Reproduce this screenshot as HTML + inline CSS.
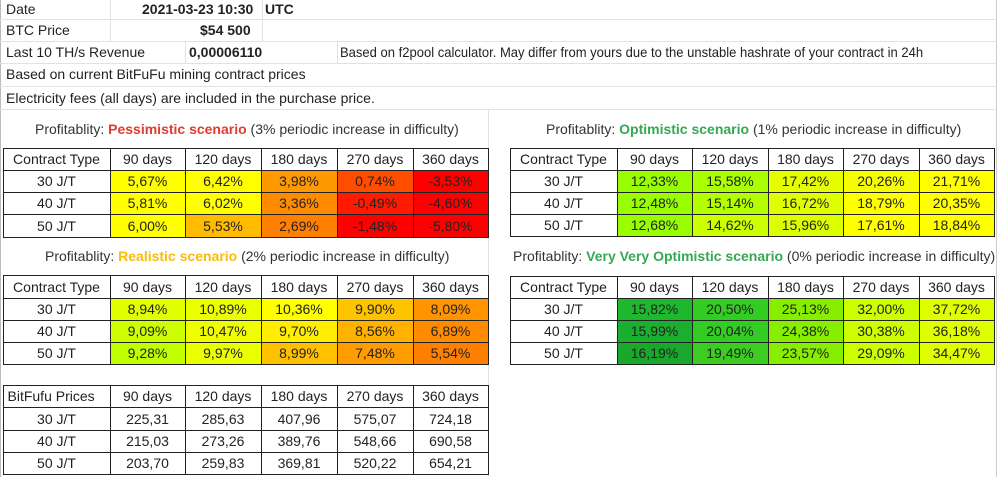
<!DOCTYPE html>
<html><head><meta charset="utf-8"><style>
body{margin:0;width:1000px;height:477px;background:#fff;position:relative;overflow:hidden;font-family:"Liberation Sans",Arial,sans-serif;font-size:14px;color:#222}
.c{position:absolute;box-sizing:border-box;display:flex;align-items:center;justify-content:center;white-space:nowrap;overflow:visible}
.gl{position:absolute;background:#e2e2e2}
.t{position:absolute;white-space:nowrap}
</style></head><body>
<div class="gl" style="left:0;top:0;width:1px;height:477px;background:#bbb"></div>
<div class="gl" style="left:996px;top:0;width:1px;height:477px;background:#ccc"></div>
<div class="gl" style="left:0;top:19px;width:997px;height:1px"></div>
<div class="gl" style="left:0;top:41px;width:997px;height:1px"></div>
<div class="gl" style="left:0;top:63px;width:997px;height:1px"></div>
<div class="gl" style="left:0;top:86px;width:997px;height:1px"></div>
<div class="gl" style="left:0;top:109px;width:997px;height:1px"></div>
<div class="gl" style="left:110px;top:0;width:1px;height:41px"></div>
<div class="gl" style="left:262px;top:0;width:1px;height:41px"></div>
<div class="gl" style="left:185px;top:41px;width:1px;height:22px"></div>
<div class="gl" style="left:337px;top:41px;width:1px;height:22px"></div>
<div class="gl" style="left:488px;top:109px;width:1px;height:368px"></div>

<div class="t" style="left:6px;top:1px">Date</div>
<div class="t" style="left:142px;top:1px;font-weight:bold">2021-03-23 10:30</div>
<div class="t" style="left:265px;top:1px;font-weight:bold">UTC</div>
<div class="t" style="left:6px;top:22px">BTC Price</div>
<div class="t" style="left:200px;top:22px;font-weight:bold">$54 500</div>
<div class="t" style="left:6px;top:44px">Last 10 TH/s Revenue</div>
<div class="t" style="left:189px;top:44px;font-weight:bold">0,00006110</div>
<div class="t" style="left:340px;top:44px;transform:scaleX(0.93);transform-origin:left">Based on f2pool calculator. May differ from yours due to the unstable hashrate of your contract in 24h</div>
<div class="t" style="left:6px;top:66px">Based on current BitFuFu mining contract prices</div>
<div class="t" style="left:6px;top:90px">Electricity fees (all days) are included in the purchase price.</div>

<div class="t" style="left:35px;top:121px;color:#333">Profitablity: <b style="color:#e03c31">Pessimistic scenario</b> (3% periodic increase in difficulty)</div>
<div class="t" style="left:546px;top:121px;color:#333">Profitablity: <b style="color:#34a853">Optimistic scenario</b> (1% periodic increase in difficulty)</div>
<div class="t" style="left:45px;top:248px;color:#333">Profitablity: <b style="color:#fbbc04">Realistic scenario</b> (2% periodic increase in difficulty)</div>
<div class="t" style="left:513px;top:248px;color:#333">Profitablity: <b style="color:#34a853">Very Very Optimistic scenario</b> (0% periodic increase in difficulty)</div>

<script>
const periods=["90 days","120 days","180 days","270 days","360 days"];
const contracts=["30 J/T","40 J/T","50 J/T"];
const pessVals=[["5,67%","6,42%","3,98%","0,74%","-3,53%"],["5,81%","6,02%","3,36%","-0,49%","-4,60%"],["6,00%","5,53%","2,69%","-1,48%","-5,80%"]];
const pessCols=[["#ffff00","#ffff00","#ff9900","#ff4d00","#ff0000"],["#ffff00","#ffff00","#ff8c00","#ff1a00","#ff0000"],["#ffff00","#ffbb00","#ff8000","#ff0000","#ff0000"]];
const realVals=[["8,94%","10,89%","10,36%","9,90%","8,09%"],["9,09%","10,47%","9,70%","8,56%","6,89%"],["9,28%","9,97%","8,99%","7,48%","5,54%"]];
const realCols=[["#e2ff00","#eaff00","#ffff00","#ffc400","#ff9400"],["#cdff00","#f0ff00","#ffee00","#ffb300","#ff8c00"],["#c0ff00","#eaff00","#ffc000","#ff9d00","#ff8000"]];
const optVals=[["12,33%","15,58%","17,42%","20,26%","21,71%"],["12,48%","15,14%","16,72%","18,79%","20,35%"],["12,68%","14,62%","15,96%","17,61%","18,84%"]];
const optCols=[["#99ff00","#aaff00","#e6ff00","#f5ff00","#ffff00"],["#99ff00","#b3ff00","#ddff00","#ffff00","#ffff00"],["#99ff00","#ccff00","#dcff00","#ffff00","#ffff00"]];
const vvoVals=[["15,82%","20,50%","25,13%","32,00%","37,72%"],["15,99%","20,04%","24,38%","30,38%","36,18%"],["16,19%","19,49%","23,57%","29,09%","34,47%"]];
const vvoCols=[["#1eb82e","#33cc22","#88ee00","#ccff00","#ddff00"],["#1aaf2e","#33cc22","#88ee00","#ccff00","#ddff00"],["#18a82c","#3ccc22","#88ee00","#ccff00","#ddff00"]];
const priceVals=[["225,31","285,63","407,96","575,07","724,18"],["215,03","273,26","389,76","548,66","690,58"],["203,70","259,83","369,81","520,22","654,21"]];

const leftX=[3,110,185,261,337,413,488];
const rightX=[510,617,692,768,843,919,994];
function cell(x,y,w,h,txt,bg){
  const d=document.createElement('div');
  d.className='c';
  d.style.cssText=`left:${x}px;top:${y}px;width:${w}px;height:${h}px;background:${bg};border:1px solid #222;margin:-0.5px`;
  d.textContent=txt;
  document.body.appendChild(d);
  return d;
}
function table(xs,top,rowsB,head,vals,cols,nm){
  const hdr=[head].concat(periods);
  for(let c=0;c<6;c++){
    const el=cell(xs[c],top,xs[c+1]-xs[c]+1,rowsB[0]-top+1,hdr[c],'#fff');
    
    
    if(c==0&&head=='BitFufu Prices'){el.style.justifyContent='flex-start';el.style.paddingLeft='4px';}
  }
  for(let r=0;r<3;r++){
    const y0=rowsB[r],y1=rowsB[r+1];
    const lab=cell(xs[0],y0,xs[1]-xs[0]+1,y1-y0+1,contracts[r],'#fff');
    
    
    for(let c=0;c<5;c++){
      const el=cell(xs[c+1],y0,xs[c+2]-xs[c+1]+1,y1-y0+1,vals[r][c],cols?cols[r][c]:'#fff');
      
      
    }
  }
}
table(leftX,148,[170,192,214,237],'Contract Type',pessVals,pessCols,'pessimistic');
table(rightX,148,[170,192,214,236],'Contract Type',optVals,optCols,'optimistic');
table(leftX,275,[298,320,342,364],'Contract Type',realVals,realCols,'realistic');
table(rightX,276,[298,320,342,364],'Contract Type',vvoVals,vvoCols,'very-optimistic');
table(leftX,385,[407,430,452,474],'BitFufu Prices',priceVals,null,'prices');
</script>
</body></html>
